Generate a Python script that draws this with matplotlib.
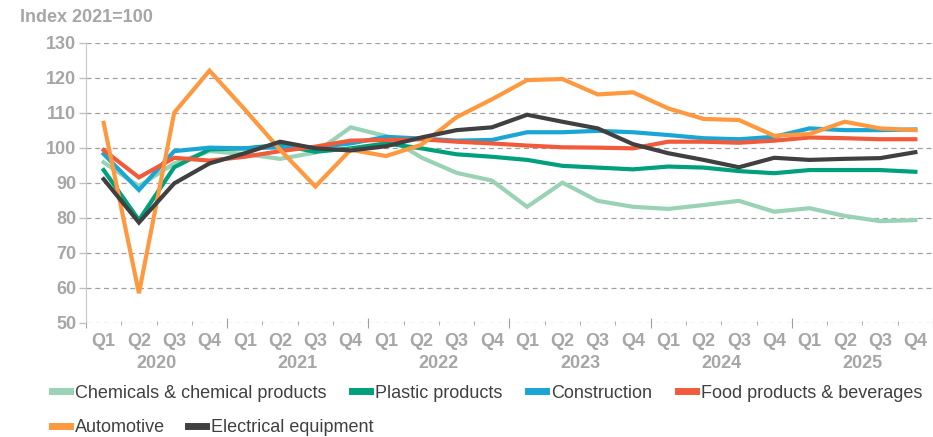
import numpy as np
import matplotlib.pyplot as plt
import matplotlib.transforms as mtransforms

plt.rcParams['font.family'] = ['Liberation Sans', 'DejaVu Sans']

quarters = ['Q1', 'Q2', 'Q3', 'Q4'] * 6
years = ['2020', '2021', '2022', '2023', '2024', '2025']

chemicals = [95.9, 89.1, 95.6, 99.1, 98.3, 96.9, 98.7, 105.9,
             103.4, 97.3, 92.9, 90.7, 83.2, 90.1, 84.9, 83.2,
             82.6, 83.7, 84.9, 81.8, 82.8, 80.6, 79.1, 79.4]
plastic = [93.7, 79.4, 94.5, 99.6, 99.9, 100.9, 98.9, 99.9,
           101.3, 99.9, 98.2, 97.5, 96.6, 94.9, 94.4, 93.9,
           94.7, 94.4, 93.4, 92.8, 93.7, 93.7, 93.7, 93.2]
construction = [98.3, 88.0, 99.1, 100.1, 99.9, 100.2, 100.2, 101.3,
                103.2, 102.7, 102.1, 102.3, 104.5, 104.5, 104.9, 104.5,
                103.7, 102.8, 102.5, 103.2, 105.6, 105.1, 105.1, 105.3]
food = [99.4, 91.6, 97.2, 96.4, 97.5, 99.1, 100.4, 102.1,
        102.3, 102.5, 101.8, 101.3, 100.7, 100.2, 100.1, 99.9,
        101.8, 101.8, 101.5, 102.1, 103.0, 102.8, 102.5, 102.5]
automotive = [107.2, 58.5, 110.1, 122.1, 111.0, 99.5, 89.0, 99.5,
              97.7, 100.9, 108.8, 113.9, 119.4, 119.7, 115.3, 115.9,
              111.3, 108.3, 108.0, 103.5, 104.0, 107.5, 105.6, 105.1]
electrical = [91.1, 78.7, 89.9, 95.6, 98.5, 101.8, 99.9, 99.3,
              100.5, 103.0, 105.1, 105.9, 109.5, 107.5, 105.6, 101.1,
              98.5, 96.6, 94.5, 97.2, 96.6, 96.9, 97.1, 98.8]

series = [
    ('Chemicals & chemical products', chemicals, '#99D2B4'),
    ('Plastic products', plastic, '#00A07C'),
    ('Construction', construction, '#1AA6D4'),
    ('Food products & beverages', food, '#F25A3C'),
    ('Automotive', automotive, '#FF9940'),
    ('Electrical equipment', electrical, '#404040'),
]

grey = '#A6A6A6'
fs = 13
fig = plt.figure(figsize=(9.33, 4.37), dpi=100)
ax = fig.add_axes([86 / 933, 1 - 323 / 437, 1 - 86 / 933, 280 / 437])

x = np.arange(len(quarters))
lines = []
for name, vals, col in series:
    ln, = ax.plot(x, vals, color=col, lw=3, label=name, solid_joinstyle='miter')
    lines.append(ln)

ax.set_xlim(-0.5, len(quarters) - 0.5)
ax.set_ylim(50, 130)
ax.set_yticks(np.arange(50, 131, 10))
ax.yaxis.grid(True, color='#A0A0A0', ls=(0, (4, 3)), lw=0.9)
ax.set_axisbelow(True)
for s in ['top', 'right', 'bottom']:
    ax.spines[s].set_visible(False)
ax.spines['left'].set_color('#C8C8C8')
ax.tick_params(axis='y', colors='#C0C0C0', length=5, width=1, pad=2,
               labelcolor=grey, labelsize=fs)
for t in ax.get_yticklabels():
    t.set_fontweight('bold')

# quarter labels
ax.set_xticks(x)
ax.set_xticklabels(quarters, fontsize=fs, fontweight='bold', color=grey)
ax.tick_params(axis='x', which='major', length=0, pad=7)
ax.set_xticks(np.arange(-0.5, len(quarters), 1), minor=True)
ax.tick_params(axis='x', which='minor', length=3, direction='inout', color='#A0A0A0')

# year boundary ticks
sec = ax.secondary_xaxis('bottom')
sec.set_xticks(np.arange(-0.5, len(quarters), 4))
sec.set_xticklabels([])
sec.tick_params(length=7, direction='inout', color='#A0A0A0')
sec.spines['bottom'].set_visible(False)

trans = mtransforms.blended_transform_factory(ax.transData, ax.transAxes)
for i, yr in enumerate(years):
    ax.text(4 * i + 1.5, -0.146, yr, transform=trans, ha='center', va='center',
            fontsize=fs, fontweight='bold', color=grey)

fig.text(20 / 933, 1 - 18 / 437, 'Index 2021=100', fontsize=fs,
         fontweight='bold', color=grey, va='center', ha='left')

leg_kw = dict(frameon=False, fontsize=fs, handlelength=1.0, handletextpad=0.25,
              borderpad=0, borderaxespad=0, labelcolor='#404040', loc='center left')
leg1 = fig.legend(lines[:4], [s[0] for s in series[:4]], ncol=4, columnspacing=1.45,
                  bbox_to_anchor=(52 / 933, 1 - 393 / 437), **leg_kw)
leg2 = fig.legend(lines[4:], [s[0] for s in series[4:]], ncol=2, columnspacing=1.3,
                  bbox_to_anchor=(52 / 933, 1 - 428 / 437), **leg_kw)
for leg in (leg1, leg2):
    for h in leg.get_lines():
        h.set_linewidth(5)

fig.savefig('out.png', dpi=100)
